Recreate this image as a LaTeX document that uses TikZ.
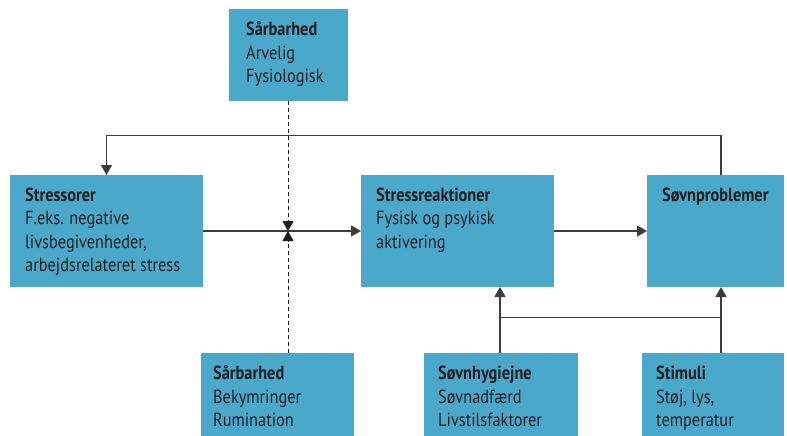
\documentclass[tikz,border=0pt]{standalone}
\usepackage{fontspec}
\setmainfont[FakeStretch=0.86]{PT Sans}
\usetikzlibrary{arrows.meta}
\definecolor{boxc}{HTML}{4AA8CA}
\definecolor{linec}{HTML}{3C3C3C}
\definecolor{textc}{HTML}{231F20}
\begin{document}
\begin{tikzpicture}[x=1pt,y=-1pt,
  box/.style={fill=boxc, draw=none, inner sep=0pt, outer sep=0pt, anchor=north west},
  txt/.style={inner sep=0pt, anchor=north west, align=left, text=textc, font=\fontsize{19}{23.5}\selectfont},
  conn/.style={draw=linec, line width=1.3pt},
  dsh/.style={draw=textc, line width=1pt, dash pattern=on 4pt off 3pt},
  tip/.style={-{Triangle[length=10pt,width=11pt]}}]
\useasboundingbox (0,0) rectangle (787,436);
% boxes
\node[box, minimum width=119pt, minimum height=92pt] (sarb1) at (229,9) {};
\node[box, minimum width=193pt, minimum height=112pt] (stressorer) at (10,175) {};
\node[box, minimum width=193pt, minimum height=112pt] (stressreak) at (361,175) {};
\node[box, minimum width=137pt, minimum height=112pt] (sovnprob) at (647,175) {};
\node[box, minimum width=153pt, minimum height=84pt] (sarb2) at (201,353) {};
\node[box, minimum width=154pt, minimum height=84pt] (sovnhyg) at (424,353) {};
\node[box, minimum width=142pt, minimum height=84pt] (stimuli) at (642,353) {};
% texts
\node[txt] (sarb1-t) at ([xshift=17pt,yshift=-10pt]sarb1.north west) {\strut\textbf{Sårbarhed}\\Arvelig\\Fysiologisk};
\node[txt] (stressorer-t) at ([xshift=15pt,yshift=-9.5pt]stressorer.north west) {\strut\textbf{Stressorer}\\F.eks. negative\\livsbegivenheder,\\arbejdsrelateret stress};
\node[txt] (stressreak-t) at ([xshift=15pt,yshift=-9.5pt]stressreak.north west) {\strut\textbf{Stressreaktioner}\\Fysisk og psykisk\\aktivering};
\node[txt] (sovnprob-t) at ([xshift=15pt,yshift=-9.5pt]sovnprob.north west) {\strut\textbf{Søvnproblemer}};
\node[txt] (sarb2-t) at ([xshift=12pt,yshift=-10pt]sarb2.north west) {\strut\textbf{Sårbarhed}\\Bekymringer\\Rumination};
\node[txt] (sovnhyg-t) at ([xshift=14pt,yshift=-10pt]sovnhyg.north west) {\strut\textbf{Søvnhygiejne}\\Søvnadfærd\\Livstilsfaktorer};
\node[txt] (stimuli-t) at ([xshift=14pt,yshift=-10pt]stimuli.north west) {\strut\textbf{Stimuli}\\Støj, lys,\\temperatur};
% helper coordinates
\coordinate (fb1) at (721,135.7);
\coordinate (fb2) at (106.5,135.7);
\coordinate (meet) at (288,231);
\coordinate (j1) at (500,317.5);
\coordinate (j2) at (721,317.5);
% connectors
\draw[conn,tip] (stressorer) -- (stressreak);
\draw[conn,tip] (stressreak) -- (sovnprob);
\draw[conn,tip] (sovnprob.north -| fb1) -- (fb1) -- (fb2) -- (stressorer.north);
\draw[dsh,tip] (sarb1.south -| meet) -- (meet);
\draw[dsh,tip] (sarb2.north -| meet) -- (meet);
\draw[conn,tip] (sovnhyg.north -| j1) -- (stressreak.south -| j1);
\draw[conn,tip] (stimuli.north -| j2) -- (sovnprob.south -| j2);
\draw[conn] (j1) -- (j2);
\end{tikzpicture}
\end{document}
